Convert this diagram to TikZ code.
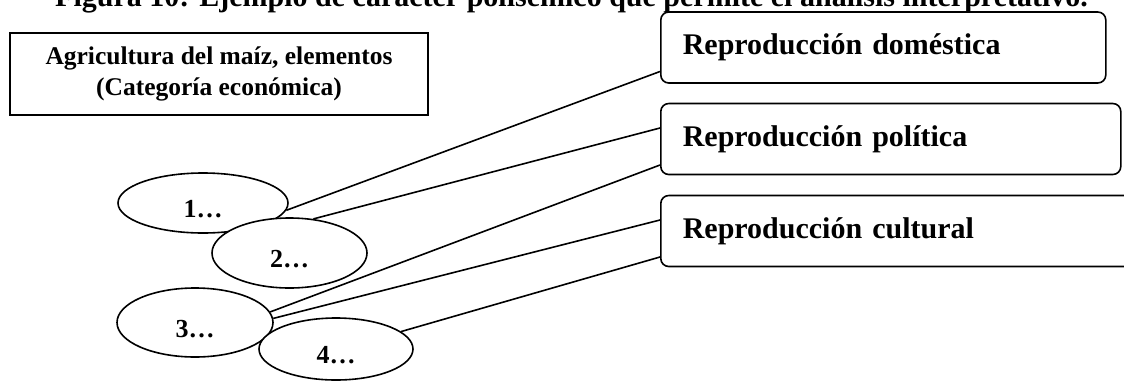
\documentclass[tikz,border=0pt]{standalone}
\usepackage{fontspec}
\setmainfont{Liberation Serif}
\usetikzlibrary{shapes.geometric}

\tikzset{
  catbox/.style={draw, line width=2pt, minimum width=418pt, minimum height=82pt, align=center, font=\fontsize{25.5}{31}\selectfont\bfseries},
  repbox/.style={draw, rounded corners=8pt, line width=1.6pt, minimum height=71pt, inner xsep=22pt, align=left, anchor=west, font=\fontsize{30}{36}\selectfont\bfseries},
  elem/.style={ellipse, draw, fill=white, line width=1.6pt, inner sep=0pt, text height=29pt, text depth=0pt, font=\fontsize{26}{31}\selectfont\bfseries},
  link/.style={line width=1.6pt}
}

\begin{document}
\begin{tikzpicture}[x=1pt, y=-1pt]
            \clip (0,0) rectangle (1124,381);

            % Nodes
            \node[anchor=base, font=\fontsize{30}{36}\selectfont\bfseries] (title) at (571.5,6) {Figura 10: Ejemplo de carácter polisémico que permite el análisis interpretativo.};
            \node[catbox] (cat) at (219,74) {Agricultura del maíz, elementos\\(Categoría económica)};

            \node[repbox, text width=401pt] (b1) at (660,47.5) {Reproducción doméstica};
            \node[repbox, text width=416pt] (b2) at (660,139) {Reproducción política};
            \node[repbox, text width=431pt] (b3) at (660,231) {Reproducción cultural};

            \node[elem, minimum width=170pt, minimum height=60pt] (e1) at (203,203) {1…};
            \node[elem, minimum width=155pt, minimum height=70pt] (e2) at (289.5,253) {2…};
            \node[elem, minimum width=156pt, minimum height=69pt] (e3) at (195,322.5) {3…};
            \node[elem, minimum width=154pt, minimum height=62pt] (e4) at (336,349) {4…};

            % Lines
            \draw[link] (e1.-5) -- ([yshift=-24pt]b1.west);
            \draw[link] (e2.55) -- ([yshift=11pt]b2.west);
            \draw[link] (e3.8) -- ([yshift=-26pt]b2.west);
            \draw[link] (e3.3) -- ([yshift=11pt]b3.west);
            \draw[link] (e4.15) -- ([yshift=-26pt]b3.west);
\end{tikzpicture}
\end{document}
